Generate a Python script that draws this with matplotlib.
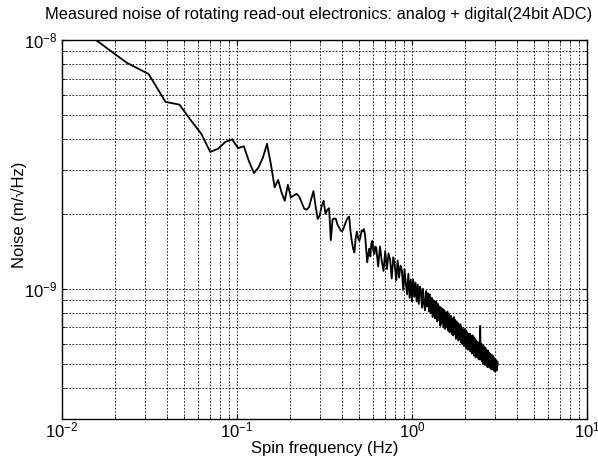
import numpy as np
import matplotlib
matplotlib.use("Agg")
import matplotlib.pyplot as plt

plt.rcParams['font.family'] = ['Liberation Sans', 'DejaVu Sans']

# low frequency part, FFT bins of 1/128 Hz (k = 2..79), noise in 1e-10 m/sqrt(Hz)
freq_low = np.arange(2, 80) / 128.0
noise_low = [100, 81, 73, 56.4, 55, 47.4, 42, 35.5, 36.6, 39,
             39.9, 36.8, 37.4, 32.5, 29.2, 30.8, 33.7, 38.3, 31.6, 25.6,
             27.4, 24.4, 22.6, 26.2, 23.3, 23.7, 24.1, 23.5, 22.2, 21.0,
             20.8, 21.3, 23.0, 24.7, 21.5, 19.1, 19.7, 21.5, 22.6, 20.0,
             20.8, 21.1, 15.7, 19.0, 19.2, 19.1, 18.1, 17.7, 17.2, 17.0,
             17.5, 18.2, 18.8, 19.3, 19.5, 17.0, 15.5, 14.5, 14.0, 16.0,
             17.0, 16.0, 15.6, 16.2, 17.2, 17.0, 17.4, 16.5, 14.5, 12.8,
             13.8, 14.5, 13.5, 15.2, 15.6, 14.2, 13.8, 14.8]

# higher frequency part, bins of 1/64 Hz (k = 40..198)
freq_high = np.arange(40, 199) / 64.0
noise_high = [14.6, 12.3, 14.8, 12.9, 11.8, 14.2, 12.0, 13.9,
              13.1, 11.0, 13.4, 12.5, 10.8, 13.0, 11.1, 12.4,
              11.9, 9.9, 12.0, 10.5, 9.5, 11.5, 9.2, 10.9,
              8.9, 10.9, 9.3, 10.6, 8.9, 10.4, 8.7, 10.2,
              9.9, 8.4, 10.0, 8.7, 8.2, 9.8, 8.5, 9.6,
              8.1, 9.5, 8.0, 9.2, 7.7, 9.0, 8.0, 7.6,
              8.9, 7.4, 8.7, 7.5, 8.5, 7.1, 8.4, 7.3,
              8.3, 7.0, 8.2, 6.9, 8.0, 7.0, 8.1, 6.8,
              7.9, 6.7, 7.7, 7.8, 6.6, 7.6, 6.5, 7.7,
              6.6, 7.5, 6.3, 7.4, 6.4, 7.3, 6.2, 7.2,
              6.3, 7.2, 6.1, 7.0, 6.0, 6.9, 6.2, 5.9,
              6.9, 5.9, 6.8, 5.8, 6.7, 5.7, 6.6, 5.9,
              5.7, 6.6, 5.6, 6.5, 5.8, 5.5, 6.5, 5.6,
              6.4, 5.4, 6.3, 5.5, 5.3, 6.2, 5.4, 6.1,
              5.3, 6.1, 5.2, 6.0, 5.4, 7.1, 5.2, 5.9,
              6.0, 5.1, 5.9, 5.0, 5.9, 5.1, 5.8, 4.95,
              5.8, 5.0, 5.7, 4.9, 5.6, 4.85, 5.65, 4.95,
              5.55, 4.85, 5.5, 4.8, 5.45, 5.4, 4.75, 5.4,
              4.8, 5.4, 4.75, 5.3, 4.7, 5.25, 5.2, 4.65,
              5.2, 4.7, 5.15, 4.7, 5.05, 5.1, 4.95]

freq = np.concatenate([freq_low, freq_high])
noise = np.concatenate([noise_low, noise_high]) * 1e-10

fig = plt.figure(figsize=(5.98, 4.62), dpi=100)
ax = fig.add_axes([62/598, 1 - 419/462, 525/598, 379/462])

ax.loglog(freq, noise, color='black', linewidth=1.3)
ax.set_xlim(1e-2, 1e1)
ax.set_ylim(3e-10, 1e-8)

# matlab style dotted grid everywhere
ax.grid(True, which='both', linestyle=(0, (2, 2)), color='black', linewidth=0.6)
ax.tick_params(which='both', direction='in', top=True, right=True, labelsize=12)
ax.tick_params(axis='x', pad=1)
ax.xaxis.set_minor_formatter(matplotlib.ticker.NullFormatter())
ax.yaxis.set_minor_formatter(matplotlib.ticker.NullFormatter())
for s in ax.spines.values():
    s.set_linewidth(1.0)

fig.text(318.5/598, 1 - 15/462,
         'Measured noise of rotating read-out electronics: analog + digital(24bit ADC)',
         fontsize=11.8, ha='center', va='center')
ax.set_xlabel('Spin frequency (Hz)', fontsize=12, va='center')
ax.set_ylabel('Noise (m/\u221aHz)', fontsize=12, va='center')
ax.xaxis.set_label_coords(0.5, -0.079)
ax.yaxis.set_label_coords(-0.082, 0.54)

fig.savefig('out.png', dpi=100)
